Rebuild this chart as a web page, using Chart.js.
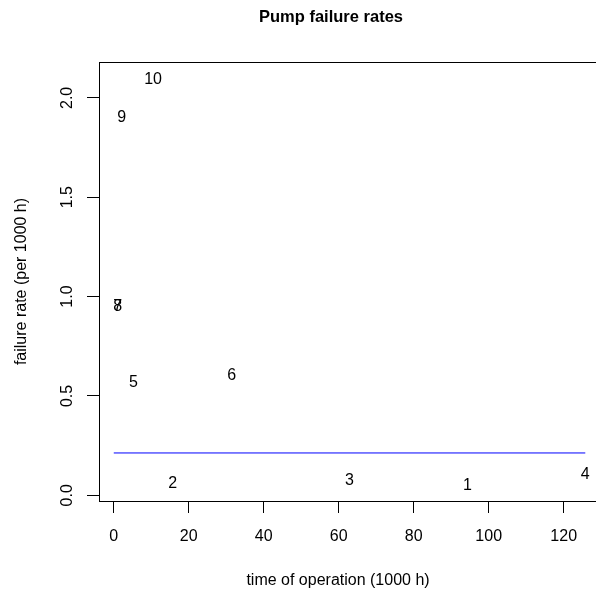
<!DOCTYPE html>
<html>
<head>
<meta charset="utf-8">
<script src="https://cdn.jsdelivr.net/npm/chart.js@4.4.0/dist/chart.umd.min.js"></script>
<style>
  html, body { margin: 0; padding: 0; background: #fff; overflow: hidden; }
  #wrap { width: 610px; height: 594px; }
</style>
</head>
<body>
<div id="wrap"><canvas id="chart" width="610" height="594"></canvas></div>
<script>
  // pump data: time of operation (1000 h) and failure rate (per 1000 h)
  const opTime = [94.32, 15.72, 62.88, 125.76, 5.24, 31.44, 1.048, 1.048, 2.096, 10.48];
  const failRate = [0.053, 0.064, 0.080, 0.111, 0.573, 0.605, 0.954, 0.954, 1.908, 2.099];
  const pumpLabels = ['1', '2', '3', '4', '5', '6', '7', '8', '9', '10'];

  const pooledRate = 0.213;
  const pooledX = [0, 125.76];

  const xTicks = [0, 20, 40, 60, 80, 100, 120];
  const yTicks = [0, 0.5, 1, 1.5, 2];
  const yTickText = ['0.0', '0.5', '1.0', '1.5', '2.0'];

  const FONT = "'Liberation Sans', Arial, sans-serif";

  const points = opTime.map((t, i) => ({ x: t, y: failRate[i] }));
  const pooledLine = pooledX.map(x => ({ x, y: pooledRate }));

  const textPlugin = {
    id: 'rtext',
    afterDatasetsDraw(chart) {
      const ctx = chart.ctx;
      const meta = chart.getDatasetMeta(0);
      ctx.save();
      ctx.fillStyle = '#000';
      ctx.font = '16px ' + FONT;
      ctx.textAlign = 'center';
      ctx.textBaseline = 'middle';
      meta.data.forEach((el, i) => {
        ctx.fillText(pumpLabels[i], el.x, el.y + 1);
      });
      ctx.restore();
    },
    afterDraw(chart) {
      const ctx = chart.ctx;
      const a = chart.chartArea;
      const ys = chart.scales.y;
      ctx.save();
      // box round the plot
      ctx.strokeStyle = '#000';
      ctx.lineWidth = 1;
      ctx.strokeRect(Math.round(a.left) + 0.5, Math.round(a.top) + 0.5,
                     Math.round(a.right - a.left), Math.round(a.bottom - a.top));

      ctx.fillStyle = '#000';
      ctx.textAlign = 'center';
      ctx.textBaseline = 'middle';

      // title
      ctx.font = 'bold 16.5px ' + FONT;
      ctx.fillText('Pump failure rates', 331, 17);

      // x axis title
      ctx.font = '16px ' + FONT;
      ctx.fillText('time of operation (1000 h)', 338, 581);

      // y tick labels, rotated
      yTicks.forEach((v, i) => {
        ctx.save();
        ctx.translate(68, ys.getPixelForValue(v));
        ctx.rotate(-Math.PI / 2);
        ctx.fillText(yTickText[i], 0, 0);
        ctx.restore();
      });

      // y axis title
      ctx.save();
      ctx.translate(22, (a.top + a.bottom) / 2);
      ctx.rotate(-Math.PI / 2);
      ctx.fillText('failure rate (per 1000 h)', 0, 0);
      ctx.restore();

      ctx.restore();
    }
  };

  new Chart(document.getElementById('chart'), {
    type: 'scatter',
    data: {
      datasets: [
        { label: 'pumps', data: points, pointRadius: 0, pointHoverRadius: 0, showLine: false },
        { type: 'line', label: 'pooled', data: pooledLine, borderColor: '#0000ff',
          borderWidth: 1, pointRadius: 0, fill: false }
      ]
    },
    options: {
      responsive: false,
      animation: false,
      events: [],
      layout: { padding: { top: 62, right: 6, left: 0, bottom: 0 } },
      plugins: { legend: { display: false }, tooltip: { enabled: false }, title: { display: false } },
      scales: {
        x: {
          type: 'linear',
          min: -3.94,
          max: 130.75,
          afterBuildTicks: s => { s.ticks = xTicks.map(v => ({ value: v })); },
          afterFit: s => { s.height = 93; },
          grid: { drawOnChartArea: false, color: '#000', tickLength: 12 },
          border: { display: false },
          ticks: { color: '#000', font: { family: FONT, size: 16 }, padding: 14,
                   maxRotation: 0, callback: v => String(v) }
        },
        y: {
          type: 'linear',
          min: -0.0288,
          max: 2.1806,
          afterBuildTicks: s => { s.ticks = yTicks.map(v => ({ value: v })); },
          afterFit: s => { s.width = 99; },
          grid: { drawOnChartArea: false, color: '#000', tickLength: 12 },
          border: { display: false },
          ticks: { display: false }
        }
      }
    },
    plugins: [textPlugin]
  });
</script>
</body>
</html>
